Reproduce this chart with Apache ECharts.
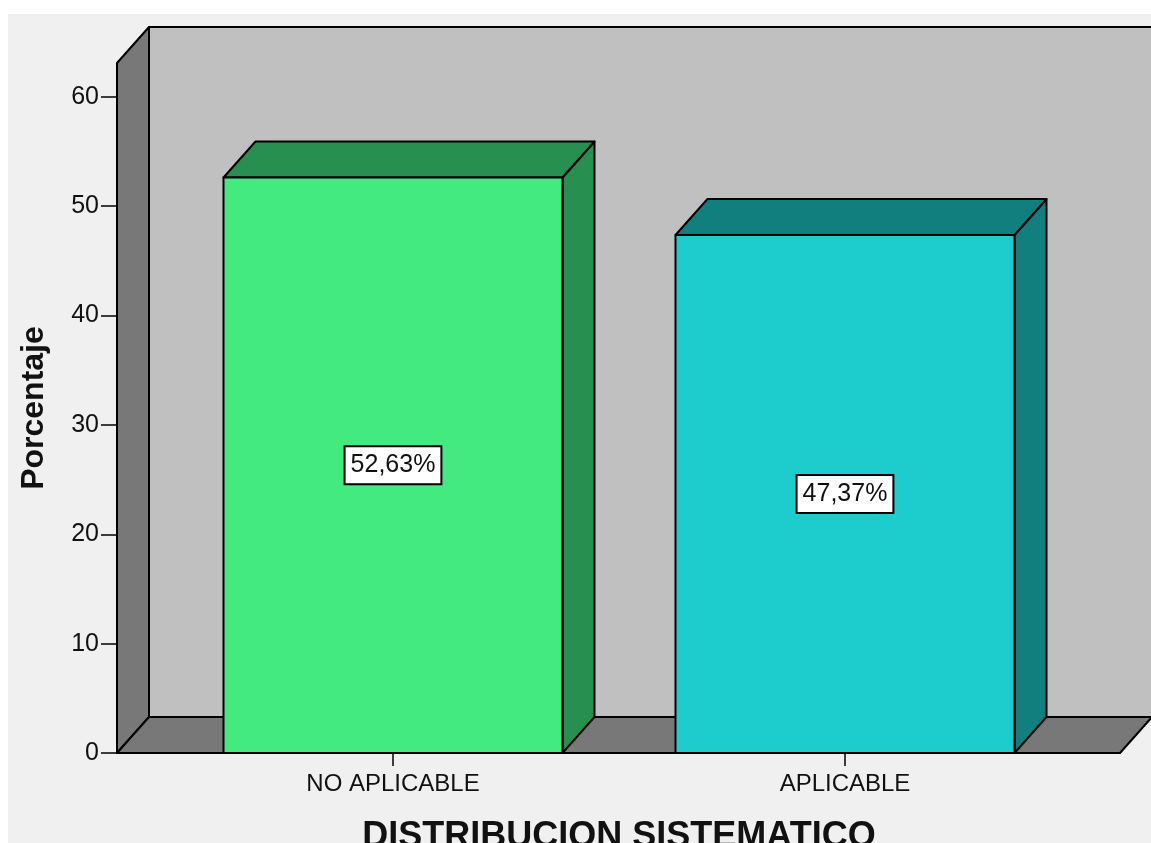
<!DOCTYPE html>
<html>
<head>
<meta charset="utf-8">
<script src="https://cdn.jsdelivr.net/npm/echarts@6/dist/echarts.min.js"></script>
<style>
html,body{margin:0;padding:0;background:#ffffff;}
#chart{position:absolute;left:0;top:0;width:1151px;height:843px;}
</style>
</head>
<body>
<div id="chart"></div>
<script>
// ---- data ----
const categories = ['NO APLICABLE', 'APLICABLE'];
const percentages = [52.63, 47.37];
const valueLabels = ['52,63%', '47,37%'];
const yTicks = [0, 10, 20, 30, 40, 50, 60];

// ---- styling ----
const frontColors = ['#42ea80', '#1dcdce'];
const darkColors = ['#278f4f', '#127f7f'];
const DX = 32, DY = 36;
const FONT = 'Arial, "Liberation Sans", sans-serif';

const chart = echarts.init(document.getElementById('chart'), null, {renderer: 'canvas'});

function wallsRender(params, api) {
  const cs = params.coordSys;
  const y0 = cs.y + cs.height;
  const yTop = cs.y;
  const xL = cs.x - 50;
  const xR = cs.x + cs.width + 49;
  const line = {stroke: '#000', lineWidth: 2, lineJoin: 'round'};
  return {
    type: 'group',
    children: [
      {type: 'rect', shape: {x: xL + DX, y: yTop - DY, width: 2000, height: y0 - yTop},
        style: Object.assign({fill: '#c0c0c0'}, line)},
      {type: 'polygon', shape: {points: [[xL, y0], [xL, yTop], [xL + DX, yTop - DY], [xL + DX, y0 - DY]]},
        style: Object.assign({fill: '#787878'}, line)},
      {type: 'polygon', shape: {points: [[xL, y0], [xR, y0], [xR + DX, y0 - DY], [xL + DX, y0 - DY]]},
        style: Object.assign({fill: '#787878'}, line)}
    ]
  };
}

function barRender(params, api) {
  const idx = api.value(0);
  const val = api.value(1);
  const top = api.coord([idx, val]);
  const base = api.coord([idx, 0]);
  const hw = api.size([1, 0])[0] * 0.75 / 2;
  const cx = top[0], yt = top[1], y0 = base[1];
  const line = {stroke: '#000', lineWidth: 2, lineJoin: 'round'};
  const i = params.dataIndex;
  return {
    type: 'group',
    children: [
      {type: 'polygon', shape: {points: [[cx + hw, y0], [cx + hw, yt], [cx + hw + DX, yt - DY], [cx + hw + DX, y0 - DY]]},
        style: Object.assign({fill: darkColors[i]}, line)},
      {type: 'polygon', shape: {points: [[cx - hw, yt], [cx + hw, yt], [cx + hw + DX, yt - DY], [cx - hw + DX, yt - DY]]},
        style: Object.assign({fill: darkColors[i]}, line)},
      {type: 'rect', shape: {x: cx - hw, y: yt, width: 2 * hw, height: y0 - yt},
        style: Object.assign({fill: frontColors[i]}, line)},
      {type: 'text', x: cx, y: (yt + y0) / 2,
        style: {text: valueLabels[i], align: 'center', verticalAlign: 'middle',
          fill: '#111', font: '25px ' + FONT, backgroundColor: '#ffffff',
          borderColor: '#000', borderWidth: 2, padding: [6, 5, 5, 5]}}
    ]
  };
}

const option = {
  backgroundColor: '#f0f0f0',
  animation: false,
  graphic: [
    {type: 'rect', left: 0, top: 0, shape: {width: 1151, height: 14}, style: {fill: '#ffffff'}, z: -10},
    {type: 'rect', left: 0, top: 0, shape: {width: 8, height: 843}, style: {fill: '#ffffff'}, z: -10}
  ],
  grid: {left: 167, right: 80, top: 63, bottom: 90, containLabel: false, outerBoundsMode: 'none'},
  xAxis: {
    type: 'category',
    data: categories,
    boundaryGap: true,
    axisLine: {show: false},
    axisTick: {show: true, alignWithLabel: true, length: 13, lineStyle: {color: '#000', width: 1.5}},
    axisLabel: {color: '#111', fontSize: 24, fontFamily: FONT, margin: 19},
    name: 'DISTRIBUCION SISTEMATICO',
    nameLocation: 'middle',
    nameGap: 66,
    nameTextStyle: {color: '#111', fontSize: 36, fontWeight: 'bold', fontFamily: FONT},
    splitLine: {show: false}
  },
  yAxis: {
    type: 'value',
    min: 0,
    max: 63.1,
    interval: 10,
    offset: 50,
    axisLine: {show: false},
    axisTick: {show: true, length: 16, customValues: yTicks, lineStyle: {color: '#000', width: 1.5}},
    axisLabel: {color: '#111', fontSize: 25, fontFamily: FONT, margin: 18, customValues: yTicks},
    splitLine: {show: false},
    name: 'Porcentaje',
    nameLocation: 'middle',
    nameGap: 67,
    nameRotate: 90,
    nameTextStyle: {color: '#111', fontSize: 32, fontWeight: 'bold', fontFamily: FONT}
  },
  series: [
    {type: 'custom', clip: false, z: 1, renderItem: wallsRender, data: [[0, 0]], silent: true},
    {type: 'custom', clip: false, z: 2, renderItem: barRender,
      data: categories.map((c, i) => [i, percentages[i]])}
  ]
};
chart.setOption(option);
</script>
</body>
</html>
